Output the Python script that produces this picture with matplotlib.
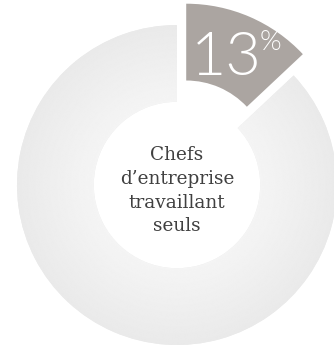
import numpy as np
import matplotlib
matplotlib.use("Agg")
import matplotlib.pyplot as plt

# share of "chefs d'entreprise travaillant seuls"
labels = ["Travaillant seuls", "Autres"]
values = [13, 87]
pct_label = "13"
center_text = "Chefs\nd\u2019entreprise\ntravaillant\nseuls"

fig = plt.figure(figsize=(3.34, 3.45), dpi=100)
ax = fig.add_axes([0, 0, 1, 1])

wedges, _ = ax.pie(values, startangle=90, counterclock=False, radius=1.0,
                   explode=[0.145, 0], colors=["#aba5a1", "#ececec"],
                   wedgeprops=dict(width=0.48, linewidth=0))

# soft radial gradient on the grey ring
xx, yy = np.meshgrid(np.linspace(-1.1, 1.1, 400), np.linspace(-1.1, 1.1, 400))
rr = np.sqrt(xx ** 2 + yy ** 2)
t = np.clip((rr - 0.52) / 0.48, 0, 1)
grad = 0.958 - 0.042 * t
img = ax.imshow(grad, extent=(-1.1, 1.1, -1.1, 1.1), origin="lower",
                cmap="gray", vmin=0, vmax=1, zorder=2)
img.set_clip_path(wedges[1])

ax.text(0.0, -0.035, center_text, ha="center", va="center", fontsize=13.3,
        family="DejaVu Serif", color="#404040", linespacing=1.42, zorder=3)

ax.text(0.305, 0.79, pct_label, ha="center", va="center", fontsize=44,
        family=["Lato", "DejaVu Sans"], fontweight=300, color="white", zorder=3)
ax.text(0.585, 0.89, "%", ha="center", va="center", fontsize=20,
        family=["Lato", "DejaVu Sans"], fontweight=300, color="white", zorder=3)

ax.set_xlim(-177 / 160, (334 - 177) / 160)
ax.set_ylim(-(345 - 185) / 160, 185 / 160)
ax.set_aspect("equal")
ax.axis("off")

fig.savefig("out.png", dpi=100, facecolor="white")
